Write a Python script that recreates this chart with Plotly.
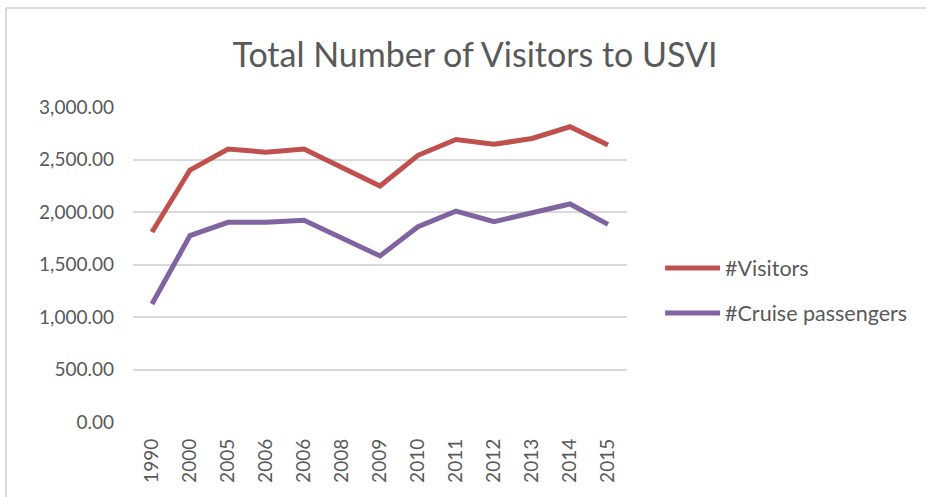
import plotly.graph_objects as go

years = ["1990", "2000", "2005", "2006", "2006", "2008", "2009",
         "2010", "2011", "2012", "2013", "2014", "2015"]
visitors = [1810, 2400, 2600, 2570, 2600, 2425, 2248, 2540, 2690, 2645, 2700, 2812, 2638]
cruise = [1124, 1775, 1902, 1902, 1922, 1750, 1582, 1860, 2008, 1908, 1994, 2076, 1882]
series_names = ["#Visitors", "#Cruise passengers"]
colors = ["#C0504D", "#8064A2"]

xpos = list(range(len(years)))

fig = go.Figure()
for i, (name, vals) in enumerate(zip(series_names, [visitors, cruise])):
    fig.add_trace(go.Scatter(
        x=xpos, y=vals, mode="lines", name=name, legendgroup=name,
        line=dict(color=colors[i], width=5),
    ))

font_family = "Lato"
L, R, T, B = 133, 627, 107, 422
fig.update_layout(
    width=926, height=497,
    paper_bgcolor="white", plot_bgcolor="white",
    margin=dict(l=L, r=926 - R, t=T, b=497 - B),
    title=dict(text="Total Number of Visitors to USVI", x=0.513, xanchor="center",
               y=1 - 55 / 497, yanchor="middle",
               font=dict(family=font_family, size=34, color="#595959")),
    font=dict(family=font_family, color="#595959", size=19),
    showlegend=True,
    legend=dict(x=1.067, y=0.554, xanchor="left", yanchor="top",
                font=dict(size=21.5, color="#595959"),
                tracegroupgap=14, itemwidth=55, bgcolor="rgba(0,0,0,0)"),
    xaxis=dict(tickmode="array", tickvals=xpos, ticktext=years, tickangle=-90,
               range=[-0.5, len(years) - 0.5], showgrid=False, zeroline=False,
               showline=False, ticks="", ticklabelstandoff=12,
               tickfont=dict(size=19, color="#595959")),
    yaxis=dict(range=[0, 3000], dtick=500, tickformat=",.2f", showgrid=True,
               gridcolor="#D9D9D9", gridwidth=2, zeroline=False, showline=False,
               ticks="", ticklabelstandoff=18,
               tickfont=dict(size=19, color="#595959")),
    shapes=[
        dict(type="line", xref="paper", yref="paper",
             x0=(6 - L) / (R - L), x1=(926 - L) / (R - L),
             y0=(B - 8) / (B - T), y1=(B - 8) / (B - T),
             line=dict(color="#D9D9D9", width=2), layer="below"),
        dict(type="line", xref="paper", yref="paper",
             x0=(6 - L) / (R - L), x1=(6 - L) / (R - L),
             y0=(B - 8) / (B - T), y1=(B - 497) / (B - T),
             line=dict(color="#D9D9D9", width=2), layer="below"),
    ],
)

fig.write_html("out.html", config={"displayModeBar": False},
               post_script="document.body.style.margin='0';")
